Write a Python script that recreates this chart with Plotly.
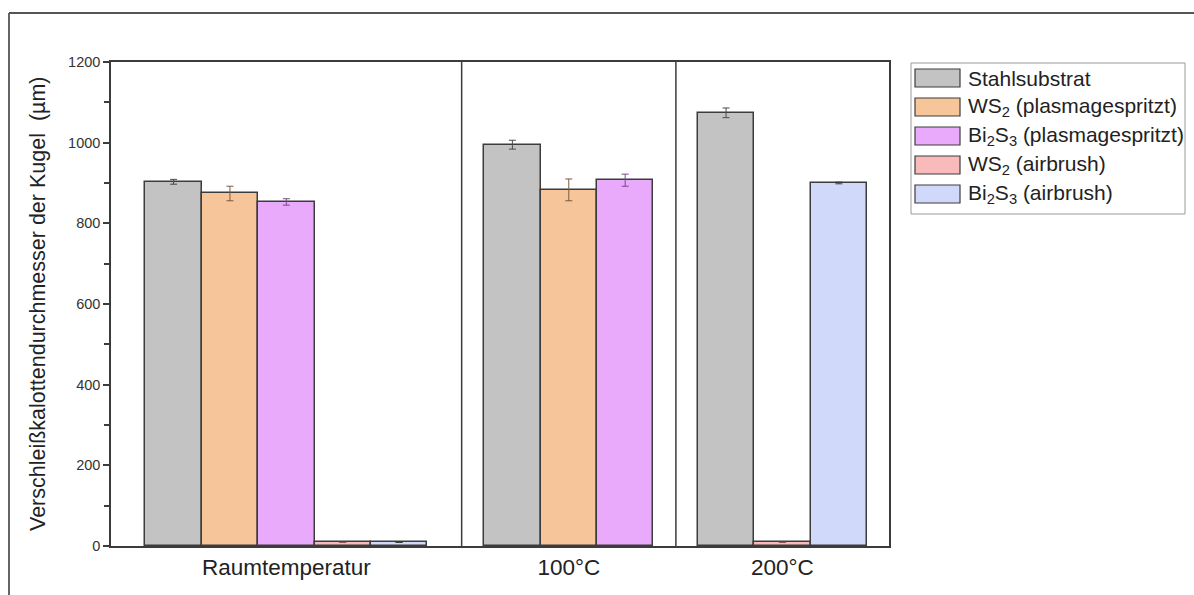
import plotly.graph_objects as go

# ---- data -------------------------------------------------------------
categories = ["Raumtemperatur", "100°C", "200°C"]

series_names = [
    "Stahlsubstrat",
    "WS<sub>2</sub> (plasmagespritzt)",
    "Bi<sub>2</sub>S<sub>3</sub> (plasmagespritzt)",
    "WS<sub>2</sub> (airbrush)",
    "Bi<sub>2</sub>S<sub>3</sub> (airbrush)",
]

stahlsubstrat = [903, 995, 1074]
stahlsubstrat_err = [6, 11, 12]

ws2_plasma = [874, 883, None]
ws2_plasma_err = [18, 27, None]

bi2s3_plasma = [853, 907, None]
bi2s3_plasma_err = [8, 15, None]

ws2_airbrush = [9, None, 9]
ws2_airbrush_err = [0, None, 0]

bi2s3_airbrush = [9, None, 900]
bi2s3_airbrush_err = [0, None, 2]

values = [stahlsubstrat, ws2_plasma, bi2s3_plasma, ws2_airbrush, bi2s3_airbrush]
errors = [stahlsubstrat_err, ws2_plasma_err, bi2s3_plasma_err,
          ws2_airbrush_err, bi2s3_airbrush_err]

# ---- styling ----------------------------------------------------------
fill_colors = ["#c3c3c3", "#f6c599", "#eaaafb", "#f8baba", "#d1d9fb"]
err_colors = ["#4a4a4a", "#7d5a3e", "#7a4c86", "#8a5a5a", "#3a3a3a"]
edge = "#3c3c3c"
FONT = "Liberation Sans, Arial, sans-serif"

# each temperature gets its own panel; bars of the present series are centred
panel_edges = [0.0, 6.22, 10.02, 13.8]
bar_w = 1.0

positions = [[None] * len(categories) for _ in values]
for ci in range(len(categories)):
    present = [si for si, v in enumerate(values) if v[ci] is not None]
    center = (panel_edges[ci] + panel_edges[ci + 1]) / 2
    start = center - len(present) * bar_w / 2 + bar_w / 2
    for k, si in enumerate(present):
        positions[si][ci] = start + k * bar_w

fig = go.Figure()
for si, name in enumerate(series_names):
    xs, ys, es = [], [], []
    for ci in range(len(categories)):
        if values[si][ci] is None:
            continue
        xs.append(positions[si][ci])
        ys.append(values[si][ci])
        es.append(errors[si][ci] or 0)
    fig.add_trace(go.Bar(
        x=xs, y=ys, width=bar_w, name=name, showlegend=False,
        marker=dict(color=fill_colors[si], line=dict(color=edge, width=1.5)),
        error_y=dict(type="data", array=es, visible=True,
                     color=err_colors[si], thickness=1, width=3.5),
    ))

centers = [(panel_edges[i] + panel_edges[i + 1]) / 2 for i in range(len(categories))]

# plot area in pixels
L, R, T, B = 111, 889, 62, 546


def px_x(p):
    return (p - L) / (R - L)


def px_y(p):
    return (B - p) / (B - T)


shapes = []
# panel separators
for xe in panel_edges[1:-1]:
    shapes.append(dict(type="line", xref="x", yref="paper", x0=xe, x1=xe,
                       y0=0, y1=1, line=dict(color=edge, width=1.5)))
# outer frame (top and left)
shapes.append(dict(type="line", xref="paper", yref="paper",
                   x0=px_x(9), x1=px_x(1200), y0=px_y(13), y1=px_y(13),
                   line=dict(color="#555555", width=1.8)))
shapes.append(dict(type="line", xref="paper", yref="paper",
                   x0=px_x(9), x1=px_x(9), y0=px_y(13), y1=px_y(600),
                   line=dict(color="#555555", width=1.8)))

# legend box with wide swatches
shapes.append(dict(type="rect", xref="paper", yref="paper",
                   x0=px_x(911), x1=px_x(1185), y0=px_y(63), y1=px_y(214),
                   line=dict(color="#9a9a9a", width=1), fillcolor="white"))
annotations = []
row0, row_h = 78, 29
for si, name in enumerate(series_names):
    cy = row0 + si * row_h
    shapes.append(dict(type="rect", xref="paper", yref="paper",
                       x0=px_x(915), x1=px_x(960),
                       y0=px_y(cy - 9), y1=px_y(cy + 9),
                       line=dict(color=edge, width=1.2),
                       fillcolor=fill_colors[si]))
    annotations.append(dict(xref="paper", yref="paper", x=px_x(966), y=px_y(cy),
                            text=name, showarrow=False, xanchor="left",
                            yanchor="middle",
                            font=dict(family=FONT, size=21, color="#222222")))

# y-axis title
annotations.append(dict(xref="paper", yref="paper", x=px_x(38), y=0.5,
                        text="Verschleißkalottendurchmesser der Kugel \u00a0(µm)",
                        textangle=-90, showarrow=False,
                        xanchor="center", yanchor="middle",
                        font=dict(family=FONT, size=21.5, color="#222222")))

fig.update_layout(
    width=1194, height=595,
    margin=dict(l=L, r=1194 - R, t=T, b=595 - B),
    paper_bgcolor="white", plot_bgcolor="white",
    font=dict(family=FONT, color="#333333"),
    bargap=0,
    shapes=shapes, annotations=annotations,
    xaxis=dict(
        range=[panel_edges[0], panel_edges[-1]],
        tickmode="array", tickvals=centers, ticktext=categories,
        ticks="", showgrid=False, zeroline=False,
        showline=True, mirror=True, linecolor=edge, linewidth=1.5,
        tickfont=dict(family=FONT, size=22.5, color="#222222"),
    ),
    yaxis=dict(
        range=[0, 1200], tickmode="linear", tick0=0, dtick=200,
        ticks="outside", ticklen=6, tickwidth=1.5, tickcolor=edge,
        minor=dict(dtick=100, ticks="outside", ticklen=5, tickwidth=1.5,
                   tickcolor=edge, showgrid=False),
        showgrid=False, zeroline=False,
        showline=True, mirror=True, linecolor=edge, linewidth=1.5,
        tickfont=dict(family=FONT, size=14.5, color="#333333"),
    ),
    yaxis2=dict(
        overlaying="y", side="right", range=[0, 1200],
        tickmode="linear", tick0=0, dtick=100,
        ticks="inside", ticklen=5, tickwidth=1.5, tickcolor=edge,
        showticklabels=False, showgrid=False, zeroline=False, showline=False,
    ),
)

fig.write_html("out.html")
